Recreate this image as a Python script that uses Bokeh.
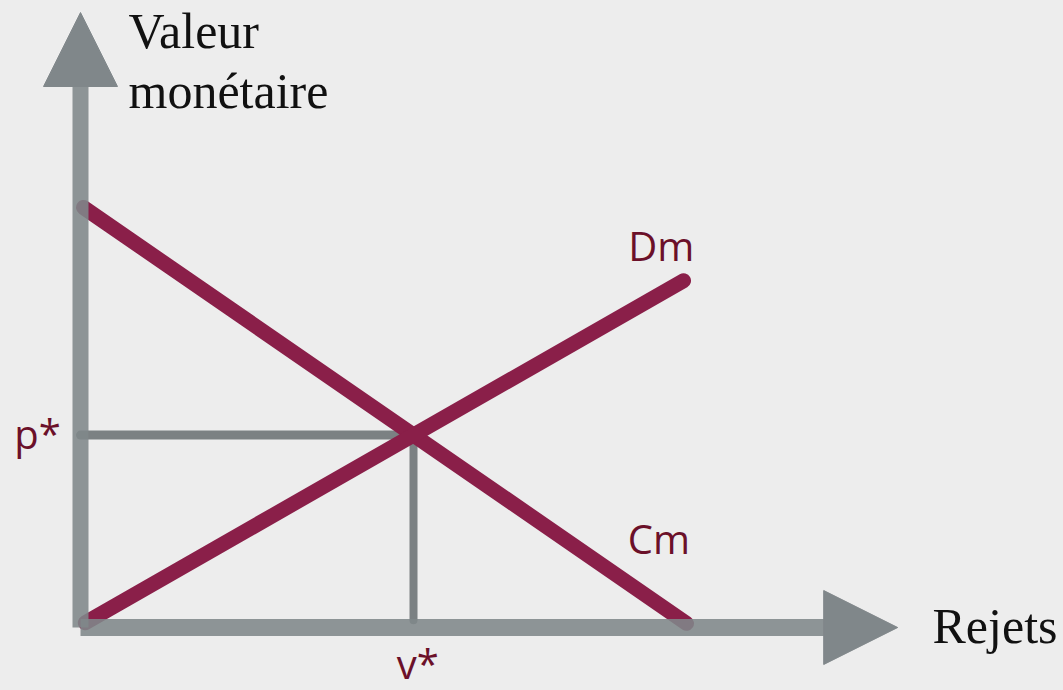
from bokeh.plotting import figure
from bokeh.models import Arrow, NormalHead, Range1d
from bokeh.core.properties import value
from bokeh.embed import file_html
from bokeh.resources import INLINE

# Schematic data (units)
cm_x = [0.05, 10.1]
cm_y = [7.0, 0.07]
dm_x = [0.08, 10.05]
dm_y = [0.08, 5.78]
axis_y_tip = 10.25
axis_x_tip = 13.62
head_len = 74 / 60.0

title_lines = ["Valeur", "monétaire"]
title_x = [0.8, 0.8]
title_y = [9.95, 8.94]
xlabel = "Rejets"
curve_labels = ["Dm", "Cm"]
curve_label_x = [9.13, 9.12]
curve_label_y = [6.36, 1.48]

# intersection of the two curves
def line_coef(xs, ys):
    m = (ys[1] - ys[0]) / (xs[1] - xs[0])
    return m, ys[0] - m * xs[0]

m1, b1 = line_coef(cm_x, cm_y)
m2, b2 = line_coef(dm_x, dm_y)
vstar = (b2 - b1) / (m1 - m2)
pstar = m1 * vstar + b1

BG = "#ededed"
MAROON = "#8a1f49"
TXT_M = "#6b1029"
GRAY = "#80878a"
GUIDE = "#7b8183"

W, H = 1063, 690
p = figure(width=W, height=H, output_backend="svg", toolbar_location=None,
           x_axis_type=None, y_axis_type=None, min_border=0,
           x_range=Range1d(-80 / 60.0, -80 / 60.0 + W / 60.0),
           y_range=Range1d(-63 / 60.0, -63 / 60.0 + H / 60.0))
p.grid.visible = False
p.outline_line_color = None
p.background_fill_color = BG
p.border_fill_color = BG

# guides
p.line([0, vstar], [pstar, pstar], line_color=GUIDE, line_width=9, line_cap="round")
p.line([vstar, vstar], [pstar, 0.12], line_color=GUIDE, line_width=8, line_cap="round")

# curves
p.line(cm_x, cm_y, line_color=MAROON, line_width=15, line_cap="round")
p.line(dm_x, dm_y, line_color=MAROON, line_width=15, line_cap="round")

# axes (semi-transparent shafts + heads)
p.line([0, 0], [0, axis_y_tip - head_len + 0.02], line_color=GRAY, line_width=16, line_alpha=0.88)
p.line([0, axis_x_tip - head_len + 0.02], [0, 0], line_color=GRAY, line_width=17, line_alpha=0.88)
for xe, ye in [(0, axis_y_tip), (axis_x_tip, 0)]:
    p.add_layout(Arrow(end=NormalHead(size=74, fill_color=GRAY, line_color=GRAY, line_width=1),
                       x_start=0, y_start=0, x_end=xe, y_end=ye, line_alpha=0))

serif = value("Liberation Serif")
sans = value("Open Sans")

p.text(title_x, title_y, text=title_lines, text_font=serif, text_font_size="50px",
       text_color="#111111", text_baseline="alphabetic")
p.text([14.2], [0.02], text=[xlabel], text_font=serif, text_font_size="50px",
       text_color="#111111", text_baseline="alphabetic")

p.text(curve_label_x, curve_label_y, text=curve_labels, text_font=sans,
       text_font_size="40px", text_color=TXT_M, text_baseline="alphabetic")
p.text([-0.33], [pstar - 0.25 + 0.28], text=["p*"], text_font=sans, text_font_size="40px",
       text_color=TXT_M, text_baseline="alphabetic", text_align="right")
p.text([vstar + 0.07], [-0.60], text=["v*"], text_font=sans, text_font_size="40px",
       text_color=TXT_M, text_baseline="alphabetic", text_align="center")

html = file_html(p, INLINE)
html = html.replace("<head>", "<head><style>html,body{background:%s;}</style>" % BG, 1)
open("out.html", "w").write(html)
